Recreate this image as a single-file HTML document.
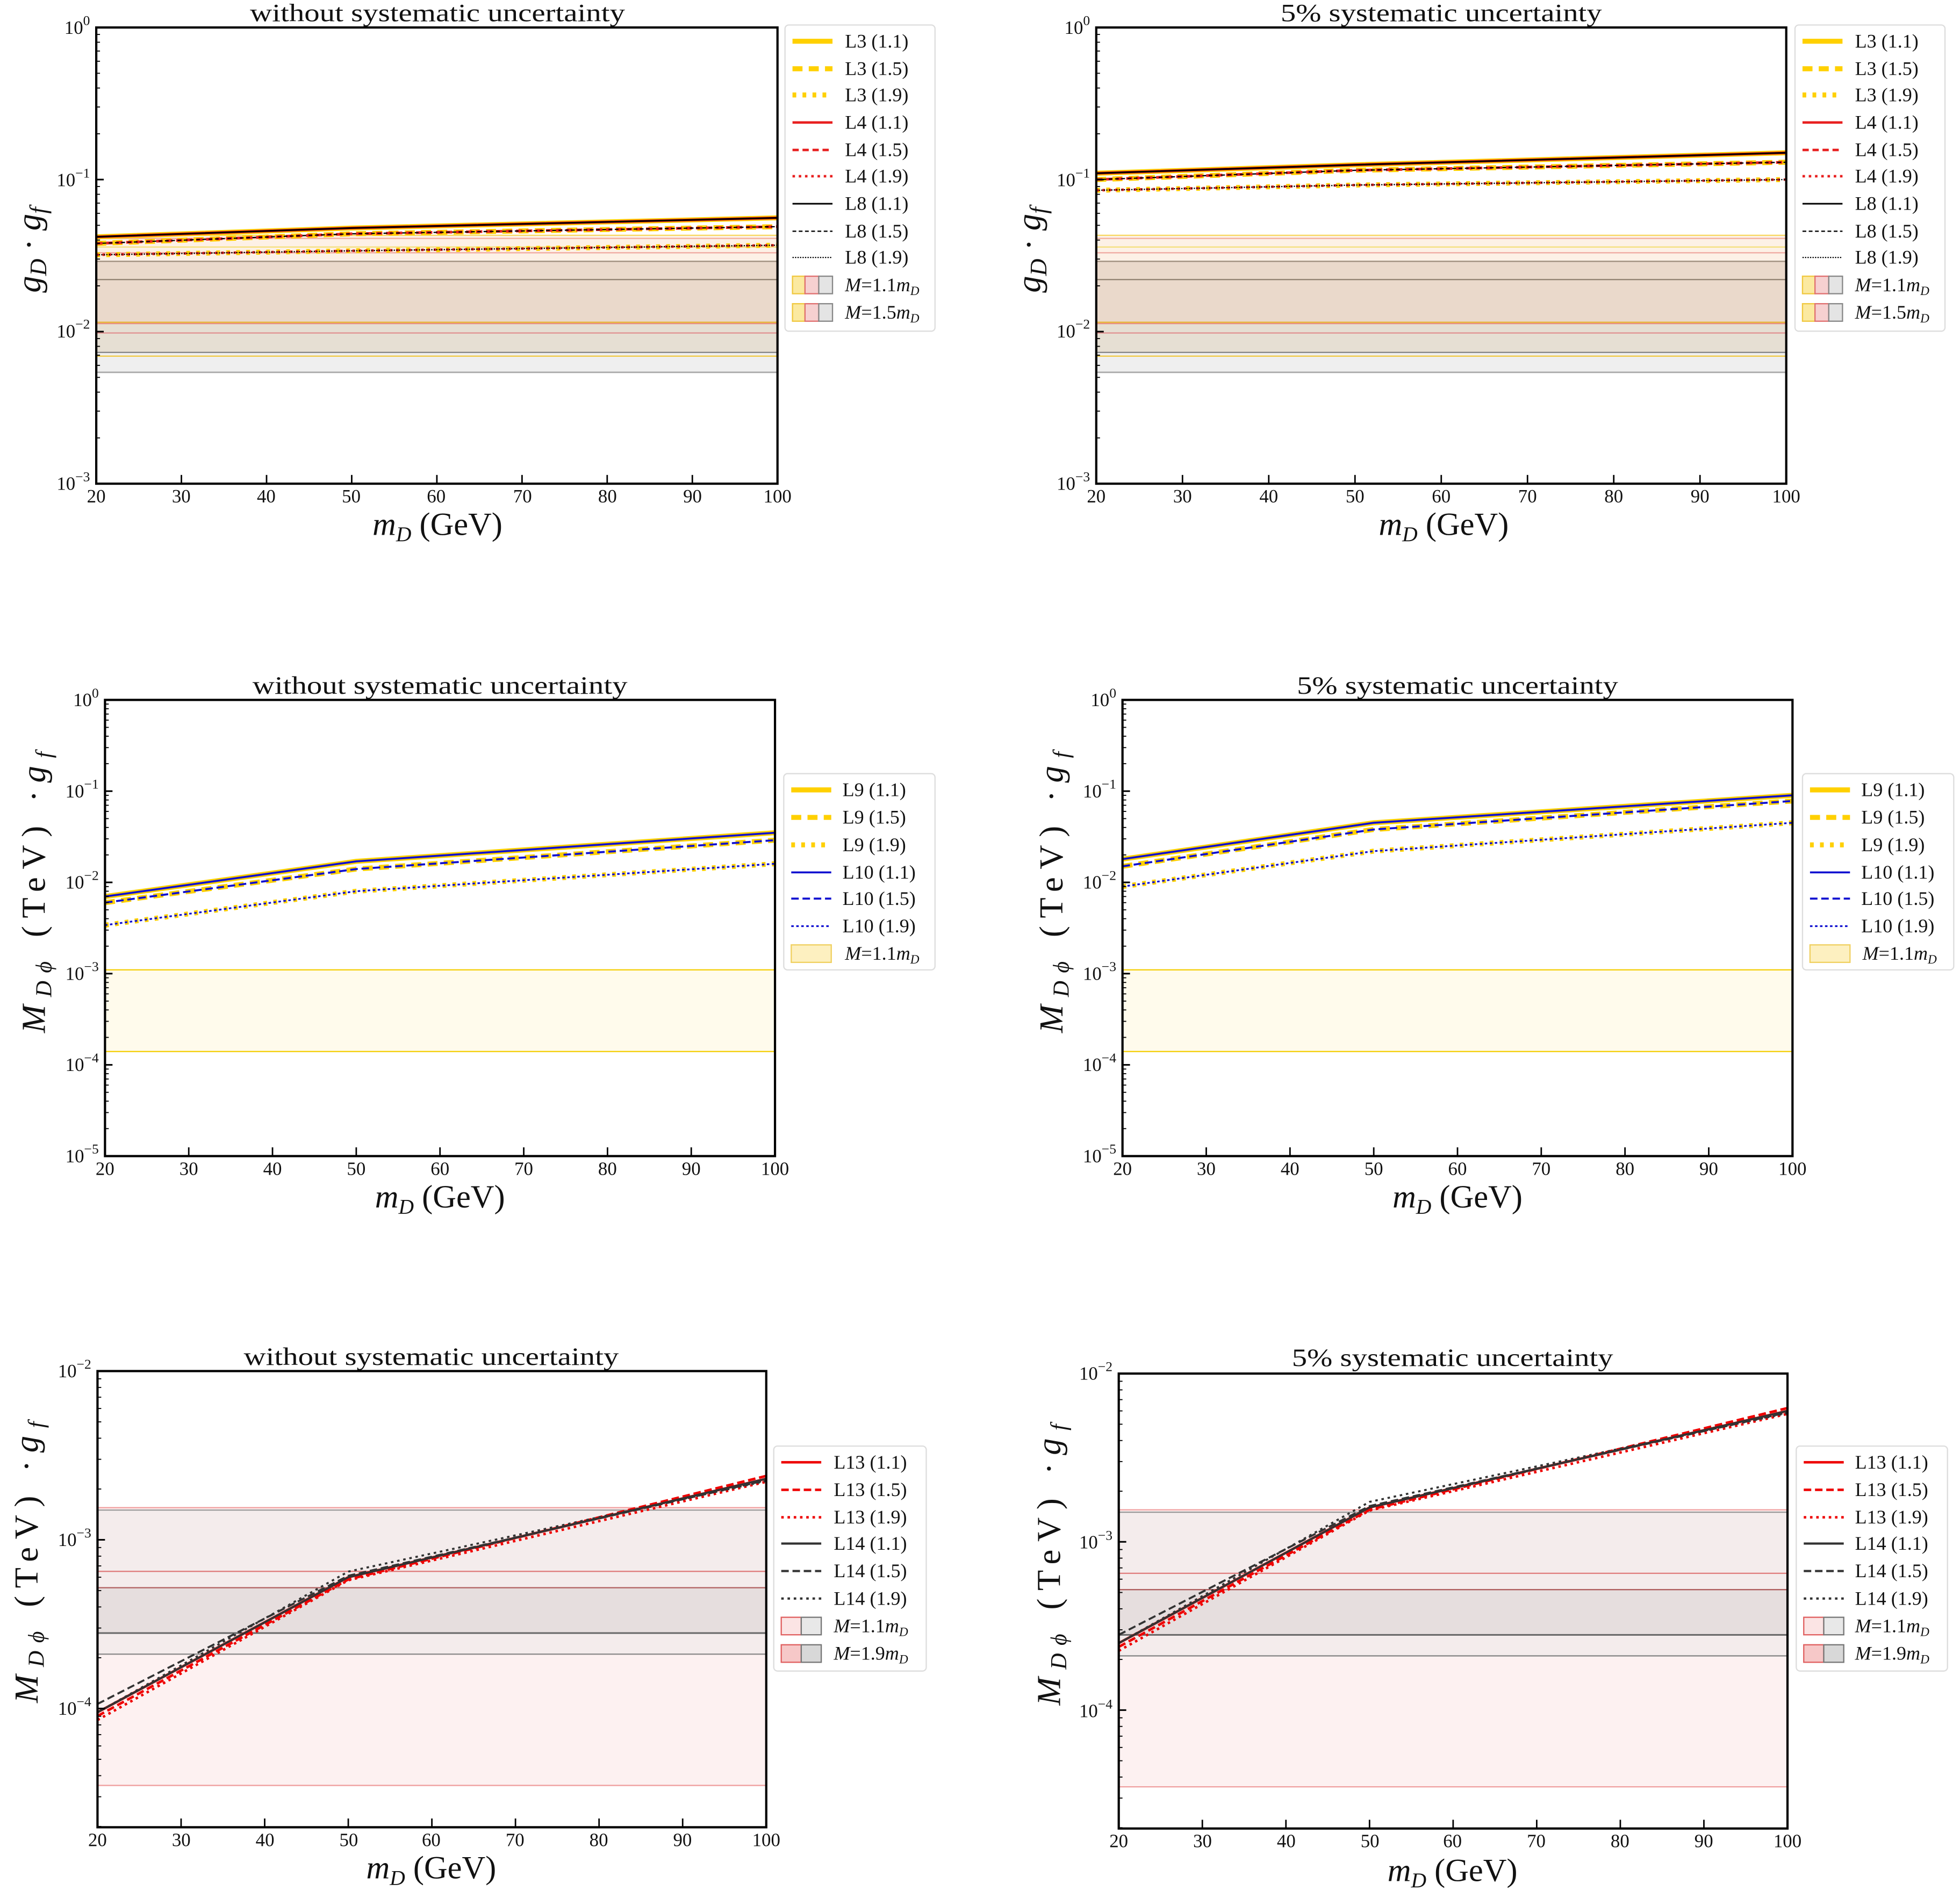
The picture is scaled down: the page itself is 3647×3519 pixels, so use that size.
<!DOCTYPE html>
<html><head><meta charset="utf-8"><style>
html,body{margin:0;padding:0;background:#fff;}
svg{display:block;}
text{font-family:"Liberation Serif",serif;fill:#111;}
.t{font-size:20px;text-anchor:middle;}
.xt{font-size:15px;text-anchor:middle;}
.yt{font-size:15px;text-anchor:end;}
.xl{font-size:26px;text-anchor:middle;}
.lg{font-size:15.5px;}
.yl{font-size:27px;text-anchor:middle;}
</style></head><body>
<svg id="s" width="3647" height="3519" viewBox="0 0 1568 1513" preserveAspectRatio="none" xmlns="http://www.w3.org/2000/svg">
<g id="g"></g>
<!-- titles -->
<text class="t" x="350" y="17" textLength="300" lengthAdjust="spacingAndGlyphs">without systematic uncertainty</text>
<text class="t" x="1153" y="17" textLength="257" lengthAdjust="spacingAndGlyphs">5% systematic uncertainty</text>
<text class="t" x="352" y="555" textLength="300" lengthAdjust="spacingAndGlyphs">without systematic uncertainty</text>
<text class="t" x="1166" y="555" textLength="257" lengthAdjust="spacingAndGlyphs">5% systematic uncertainty</text>
<text class="t" x="345" y="1092" textLength="300" lengthAdjust="spacingAndGlyphs">without systematic uncertainty</text>
<text class="t" x="1162" y="1093" textLength="257" lengthAdjust="spacingAndGlyphs">5% systematic uncertainty</text>
<!-- x tick labels -->
<g>
<text class="xt" x="77" y="402">20</text><text class="xt" x="145" y="402">30</text><text class="xt" x="213" y="402">40</text><text class="xt" x="281" y="402">50</text><text class="xt" x="349" y="402">60</text><text class="xt" x="418" y="402">70</text><text class="xt" x="486" y="402">80</text><text class="xt" x="554" y="402">90</text><text class="xt" x="622" y="402">100</text>
<text class="xt" x="877" y="402">20</text><text class="xt" x="946" y="402">30</text><text class="xt" x="1015" y="402">40</text><text class="xt" x="1084" y="402">50</text><text class="xt" x="1153" y="402">60</text><text class="xt" x="1222" y="402">70</text><text class="xt" x="1291" y="402">80</text><text class="xt" x="1360" y="402">90</text><text class="xt" x="1429" y="402">100</text>
<text class="xt" x="84" y="940">20</text><text class="xt" x="151" y="940">30</text><text class="xt" x="218" y="940">40</text><text class="xt" x="285" y="940">50</text><text class="xt" x="352" y="940">60</text><text class="xt" x="419" y="940">70</text><text class="xt" x="486" y="940">80</text><text class="xt" x="553" y="940">90</text><text class="xt" x="620" y="940">100</text>
<text class="xt" x="898" y="940">20</text><text class="xt" x="965" y="940">30</text><text class="xt" x="1032" y="940">40</text><text class="xt" x="1099" y="940">50</text><text class="xt" x="1166" y="940">60</text><text class="xt" x="1233" y="940">70</text><text class="xt" x="1300" y="940">80</text><text class="xt" x="1367" y="940">90</text><text class="xt" x="1434" y="940">100</text>
<text class="xt" x="78" y="1477">20</text><text class="xt" x="145" y="1477">30</text><text class="xt" x="212" y="1477">40</text><text class="xt" x="279" y="1477">50</text><text class="xt" x="345" y="1477">60</text><text class="xt" x="412" y="1477">70</text><text class="xt" x="479" y="1477">80</text><text class="xt" x="546" y="1477">90</text><text class="xt" x="613" y="1477">100</text>
<text class="xt" x="895" y="1478">20</text><text class="xt" x="962" y="1478">30</text><text class="xt" x="1029" y="1478">40</text><text class="xt" x="1096" y="1478">50</text><text class="xt" x="1162" y="1478">60</text><text class="xt" x="1229" y="1478">70</text><text class="xt" x="1296" y="1478">80</text><text class="xt" x="1363" y="1478">90</text><text class="xt" x="1430" y="1478">100</text>
</g>
<!-- x labels -->
<text class="xl" x="350" y="428"><tspan font-style="italic">m</tspan><tspan font-style="italic" font-size="17" dy="5">D</tspan><tspan dy="-5"> (GeV)</tspan></text>
<text class="xl" x="1155" y="428"><tspan font-style="italic">m</tspan><tspan font-style="italic" font-size="17" dy="5">D</tspan><tspan dy="-5"> (GeV)</tspan></text>
<text class="xl" x="352" y="966"><tspan font-style="italic">m</tspan><tspan font-style="italic" font-size="17" dy="5">D</tspan><tspan dy="-5"> (GeV)</tspan></text>
<text class="xl" x="1166" y="966"><tspan font-style="italic">m</tspan><tspan font-style="italic" font-size="17" dy="5">D</tspan><tspan dy="-5"> (GeV)</tspan></text>
<text class="xl" x="345" y="1503"><tspan font-style="italic">m</tspan><tspan font-style="italic" font-size="17" dy="5">D</tspan><tspan dy="-5"> (GeV)</tspan></text>
<text class="xl" x="1162" y="1505"><tspan font-style="italic">m</tspan><tspan font-style="italic" font-size="17" dy="5">D</tspan><tspan dy="-5"> (GeV)</tspan></text>
<!-- y tick labels -->
<g>
<text class="yt" x="72" y="27">10<tspan font-size="11" dy="-7">0</tspan></text>
<text class="yt" x="72" y="149">10<tspan font-size="11" dy="-7">−1</tspan></text>
<text class="yt" x="72" y="270">10<tspan font-size="11" dy="-7">−2</tspan></text>
<text class="yt" x="72" y="392">10<tspan font-size="11" dy="-7">−3</tspan></text>
<text class="yt" x="872" y="27">10<tspan font-size="11" dy="-7">0</tspan></text>
<text class="yt" x="872" y="149">10<tspan font-size="11" dy="-7">−1</tspan></text>
<text class="yt" x="872" y="270">10<tspan font-size="11" dy="-7">−2</tspan></text>
<text class="yt" x="872" y="392">10<tspan font-size="11" dy="-7">−3</tspan></text>
<text class="yt" x="79" y="565">10<tspan font-size="11" dy="-7">0</tspan></text>
<text class="yt" x="79" y="638">10<tspan font-size="11" dy="-7">−1</tspan></text>
<text class="yt" x="79" y="711">10<tspan font-size="11" dy="-7">−2</tspan></text>
<text class="yt" x="79" y="784">10<tspan font-size="11" dy="-7">−3</tspan></text>
<text class="yt" x="79" y="857">10<tspan font-size="11" dy="-7">−4</tspan></text>
<text class="yt" x="79" y="930">10<tspan font-size="11" dy="-7">−5</tspan></text>
<text class="yt" x="893" y="565">10<tspan font-size="11" dy="-7">0</tspan></text>
<text class="yt" x="893" y="638">10<tspan font-size="11" dy="-7">−1</tspan></text>
<text class="yt" x="893" y="711">10<tspan font-size="11" dy="-7">−2</tspan></text>
<text class="yt" x="893" y="784">10<tspan font-size="11" dy="-7">−3</tspan></text>
<text class="yt" x="893" y="857">10<tspan font-size="11" dy="-7">−4</tspan></text>
<text class="yt" x="893" y="930">10<tspan font-size="11" dy="-7">−5</tspan></text>
<text class="yt" x="73" y="1102">10<tspan font-size="11" dy="-7">−2</tspan></text>
<text class="yt" x="73" y="1237">10<tspan font-size="11" dy="-7">−3</tspan></text>
<text class="yt" x="73" y="1372">10<tspan font-size="11" dy="-7">−4</tspan></text>
<text class="yt" x="890" y="1104">10<tspan font-size="11" dy="-7">−2</tspan></text>
<text class="yt" x="890" y="1239">10<tspan font-size="11" dy="-7">−3</tspan></text>
<text class="yt" x="890" y="1374">10<tspan font-size="11" dy="-7">−4</tspan></text>
</g>
<!-- y labels -->
<text class="yl" transform="translate(32,200) rotate(-90)" font-size="29"><tspan font-style="italic">g</tspan><tspan font-style="italic" font-size="19" dy="5">D</tspan><tspan dy="-5"> · </tspan><tspan font-style="italic">g</tspan><tspan font-style="italic" font-size="19" dy="5">f</tspan></text>
<text class="yl" transform="translate(832,200) rotate(-90)" font-size="29"><tspan font-style="italic">g</tspan><tspan font-style="italic" font-size="19" dy="5">D</tspan><tspan dy="-5"> · </tspan><tspan font-style="italic">g</tspan><tspan font-style="italic" font-size="19" dy="5">f</tspan></text>
<text class="yl" transform="translate(36,714) rotate(-90)" textLength="225" lengthAdjust="spacing"><tspan font-style="italic">M</tspan><tspan font-style="italic" font-size="18" dy="5">Dϕ</tspan><tspan dy="-5">  (TeV) ·</tspan><tspan font-style="italic">g</tspan><tspan font-style="italic" font-size="18" dy="5">f</tspan></text>
<text class="yl" transform="translate(850,714) rotate(-90)" textLength="225" lengthAdjust="spacing"><tspan font-style="italic">M</tspan><tspan font-style="italic" font-size="18" dy="5">Dϕ</tspan><tspan dy="-5">  (TeV) ·</tspan><tspan font-style="italic">g</tspan><tspan font-style="italic" font-size="18" dy="5">f</tspan></text>
<text class="yl" transform="translate(30,1250) rotate(-90)" textLength="225" lengthAdjust="spacing"><tspan font-style="italic">M</tspan><tspan font-style="italic" font-size="18" dy="5">Dϕ</tspan><tspan dy="-5">  (TeV) ·</tspan><tspan font-style="italic">g</tspan><tspan font-style="italic" font-size="18" dy="5">f</tspan></text>
<text class="yl" transform="translate(848,1252) rotate(-90)" textLength="225" lengthAdjust="spacing"><tspan font-style="italic">M</tspan><tspan font-style="italic" font-size="18" dy="5">Dϕ</tspan><tspan dy="-5">  (TeV) ·</tspan><tspan font-style="italic">g</tspan><tspan font-style="italic" font-size="18" dy="5">f</tspan></text>
<!-- legend texts -->
<g>
<text class="lg" x="676" y="38">L3 (1.1)</text><text class="lg" x="676" y="60">L3 (1.5)</text><text class="lg" x="676" y="81">L3 (1.9)</text><text class="lg" x="676" y="103">L4 (1.1)</text><text class="lg" x="676" y="125">L4 (1.5)</text><text class="lg" x="676" y="146">L4 (1.9)</text><text class="lg" x="676" y="168">L8 (1.1)</text><text class="lg" x="676" y="190">L8 (1.5)</text><text class="lg" x="676" y="211">L8 (1.9)</text>
<text class="lg" x="676" y="233" font-size="13"><tspan font-style="italic">M</tspan>=1.1<tspan font-style="italic">m</tspan><tspan font-style="italic" font-size="10" dy="3">D</tspan></text>
<text class="lg" x="676" y="255" font-size="13"><tspan font-style="italic">M</tspan>=1.5<tspan font-style="italic">m</tspan><tspan font-style="italic" font-size="10" dy="3">D</tspan></text>
<text class="lg" x="1484" y="38">L3 (1.1)</text><text class="lg" x="1484" y="60">L3 (1.5)</text><text class="lg" x="1484" y="81">L3 (1.9)</text><text class="lg" x="1484" y="103">L4 (1.1)</text><text class="lg" x="1484" y="125">L4 (1.5)</text><text class="lg" x="1484" y="146">L4 (1.9)</text><text class="lg" x="1484" y="168">L8 (1.1)</text><text class="lg" x="1484" y="190">L8 (1.5)</text><text class="lg" x="1484" y="211">L8 (1.9)</text>
<text class="lg" x="1484" y="233" font-size="13"><tspan font-style="italic">M</tspan>=1.1<tspan font-style="italic">m</tspan><tspan font-style="italic" font-size="10" dy="3">D</tspan></text>
<text class="lg" x="1484" y="255" font-size="13"><tspan font-style="italic">M</tspan>=1.5<tspan font-style="italic">m</tspan><tspan font-style="italic" font-size="10" dy="3">D</tspan></text>
<text class="lg" x="674" y="637">L9 (1.1)</text><text class="lg" x="674" y="659">L9 (1.5)</text><text class="lg" x="674" y="681">L9 (1.9)</text><text class="lg" x="674" y="703">L10 (1.1)</text><text class="lg" x="674" y="724">L10 (1.5)</text><text class="lg" x="674" y="746">L10 (1.9)</text>
<text class="lg" x="676" y="768" font-size="13"><tspan font-style="italic">M</tspan>=1.1<tspan font-style="italic">m</tspan><tspan font-style="italic" font-size="10" dy="3">D</tspan></text>
<text class="lg" x="1489" y="637">L9 (1.1)</text><text class="lg" x="1489" y="659">L9 (1.5)</text><text class="lg" x="1489" y="681">L9 (1.9)</text><text class="lg" x="1489" y="703">L10 (1.1)</text><text class="lg" x="1489" y="724">L10 (1.5)</text><text class="lg" x="1489" y="746">L10 (1.9)</text>
<text class="lg" x="1490" y="768" font-size="13"><tspan font-style="italic">M</tspan>=1.1<tspan font-style="italic">m</tspan><tspan font-style="italic" font-size="10" dy="3">D</tspan></text>
<text class="lg" x="667" y="1175">L13 (1.1)</text><text class="lg" x="667" y="1197">L13 (1.5)</text><text class="lg" x="667" y="1219">L13 (1.9)</text><text class="lg" x="667" y="1240">L14 (1.1)</text><text class="lg" x="667" y="1262">L14 (1.5)</text><text class="lg" x="667" y="1284">L14 (1.9)</text>
<text class="lg" x="667" y="1306" font-size="13"><tspan font-style="italic">M</tspan>=1.1<tspan font-style="italic">m</tspan><tspan font-style="italic" font-size="10" dy="3">D</tspan></text>
<text class="lg" x="667" y="1328" font-size="13"><tspan font-style="italic">M</tspan>=1.9<tspan font-style="italic">m</tspan><tspan font-style="italic" font-size="10" dy="3">D</tspan></text>
<text class="lg" x="1484" y="1175">L13 (1.1)</text><text class="lg" x="1484" y="1197">L13 (1.5)</text><text class="lg" x="1484" y="1219">L13 (1.9)</text><text class="lg" x="1484" y="1240">L14 (1.1)</text><text class="lg" x="1484" y="1262">L14 (1.5)</text><text class="lg" x="1484" y="1284">L14 (1.9)</text>
<text class="lg" x="1484" y="1306" font-size="13"><tspan font-style="italic">M</tspan>=1.1<tspan font-style="italic">m</tspan><tspan font-style="italic" font-size="10" dy="3">D</tspan></text>
<text class="lg" x="1484" y="1328" font-size="13"><tspan font-style="italic">M</tspan>=1.9<tspan font-style="italic">m</tspan><tspan font-style="italic" font-size="10" dy="3">D</tspan></text>
</g>
</svg>
<script>
var NS="http://www.w3.org/2000/svg",G=document.getElementById("g");
function el(t,a){var e=document.createElementNS(NS,t);for(var k in a)e.setAttribute(k,a[k]);G.appendChild(e);return e;}
function L(x1,y1,x2,y2,c,w,d){var a={x1:x1,y1:y1,x2:x2,y2:y2,stroke:c,"stroke-width":w};if(d)a["stroke-dasharray"]=d;el("line",a);}
function panel(p){
 p.X=function(v){return p.x0+(v-20)/80*(p.x1-p.x0);};
 p.Y=function(v){return p.y0+(p.top-Math.log10(v))/(p.top-p.bot)*(p.y1-p.y0);};
 return p;}
var P=[
 panel({x0:77,x1:622,y0:22,y1:387,top:0,bot:-3}),
 panel({x0:877,x1:1429,y0:22,y1:387,top:0,bot:-3}),
 panel({x0:84,x1:620,y0:560,y1:925,top:0,bot:-5}),
 panel({x0:898,x1:1434,y0:560,y1:925,top:0,bot:-5}),
 panel({x0:78,x1:613,y0:1097,y1:1462,top:-2,bot:-4.7037}),
 panel({x0:895,x1:1430,y0:1099,y1:1463,top:-2,bot:-4.7037})];
function rect(p,a,b,c){var y1=p.Y(a),y2=p.Y(b);el("rect",{x:p.x0,y:y1,width:p.x1-p.x0,height:y2-y1,fill:c});}
function hl(p,v,c,w){L(p.x0,p.Y(v),p.x1,p.Y(v),c,w||1);}
function curve(p,vals,c,w,d){var xs=[20,50,100],pts=vals.map(function(v,i){return p.X(xs[i])+","+p.Y(v);}).join(" ");
 var a={points:pts,fill:"none",stroke:c,"stroke-width":w};if(d)a["stroke-dasharray"]=d;el("polyline",a);}
[0,1].forEach(function(i){var p=P[i];
 rect(p,0.043,0.029,"#fdf1e6");rect(p,0.029,0.0115,"#ead9cb");rect(p,0.0115,0.0073,"#e6dfd3");rect(p,0.0073,0.0054,"#efefef");
 hl(p,0.043,"#f8d860");hl(p,0.041,"#f3b0a0");hl(p,0.036,"#f5e080");hl(p,0.033,"#f0a8a0");hl(p,0.029,"#a09080");hl(p,0.022,"#908070");
 hl(p,0.0115,"#e8b840",1.2);hl(p,0.0113,"#e89080");hl(p,0.0098,"#e09090");hl(p,0.0073,"#888");hl(p,0.0069,"#f0c840");hl(p,0.0054,"#aaa",1.2);});
var R1=[[[0.042,0.048,0.056],[0.038,0.044,0.049],[0.032,0.034,0.037]],[[0.11,0.125,0.15],[0.10,0.115,0.13],[0.085,0.092,0.10]]];
[0,1].forEach(function(i){var p=P[i],r=R1[i];
 curve(p,r[0],"#ffd000",4);curve(p,r[1],"#ffd000",4,"8,5");curve(p,r[2],"#ffd000",4,"3,5");
 curve(p,r[0],"#e82020",2.2);curve(p,r[1],"#e82020",2.2,"5,3");curve(p,r[2],"#e82020",2,"2,3");
 curve(p,r[0],"#000",1.3);curve(p,r[1],"#000",1,"3,2");curve(p,r[2],"#000",1,"1,1");});
var R2=[[[0.007,0.017,0.035],[0.006,0.014,0.029],[0.0034,0.008,0.016]],[[0.018,0.045,0.09],[0.015,0.038,0.078],[0.009,0.022,0.045]]];
[2,3].forEach(function(i){var p=P[i],r=R2[i-2];
 rect(p,0.0011,0.00014,"#fffbec");hl(p,0.0011,"#f5d010");hl(p,0.00014,"#f5d010");
 curve(p,r[0],"#ffd000",4);curve(p,r[1],"#ffd000",4,"8,5");curve(p,r[2],"#ffd000",4,"3,5");
 curve(p,r[0],"#1010d0",1.6);curve(p,r[1],"#1010d0",1.6,"6,3");curve(p,r[2],"#1010d0",1.4,"2,2");});
var R3=[[9.5e-5,6e-4,2.3e-3],[2.5e-4,1.6e-3,6e-3]];
[4,5].forEach(function(i){var p=P[i],r=R3[i-4];
 rect(p,1.55e-3,3.5e-5,"#fdf1f1");rect(p,1.5e-3,2.1e-4,"#f4ecec");rect(p,5.2e-4,2.8e-4,"#e6dede");
 hl(p,1.55e-3,"#f0a0a0");hl(p,1.5e-3,"#999");hl(p,6.5e-4,"#e08080");hl(p,5.2e-4,"#b06060");hl(p,2.8e-4,"#666",1.3);hl(p,2.1e-4,"#888");hl(p,3.5e-5,"#f0a0a0");
 var f1=[r[0]*0.95,r[1]*0.97,r[2]*1.04],f2=[r[0]*0.9,r[1]*0.96,r[2]*0.96],k1=[r[0]*1.12,r[1]*1.02,r[2]*0.98],k2=[r[0],r[1]*1.08,r[2]*0.97];
 curve(p,r,"#e00",2);curve(p,f1,"#e00",2,"6,3");curve(p,f2,"#e00",2,"2,3");
 curve(p,r,"#333",1.6);curve(p,k1,"#333",1.6,"6,3");curve(p,k2,"#333",1.6,"2,3");});
P.forEach(function(p){
 el("rect",{x:p.x0,y:p.y0,width:p.x1-p.x0,height:p.y1-p.y0,fill:"none",stroke:"#000","stroke-width":1.8});
 for(var v=30;v<100;v+=10){var x=p.X(v);L(x,p.y1,x,p.y1-7,"#000",1.2);}
 for(var e=Math.ceil(p.bot)-1;e<=p.top;e++){for(var m=1;m<10;m++){var val=m*Math.pow(10,e),lv=Math.log10(val);if(lv>p.top+1e-9||lv<p.bot-1e-9)continue;var y=p.Y(val);L(p.x0,y,p.x0+(m==1?6:3),y,"#000",m==1?1.3:0.8);}}
});
function box(x,y,w,h){el("rect",{x:x,y:y,width:w,height:h,rx:3,fill:"#fff",stroke:"#ddd","stroke-width":1});}
function leg1(x,tx){box(x-6,20,tx-x+78,245);
 var ys=[33,55,76,98,120,141,163,185,206];
 var st=[["#ffd000",4,""],["#ffd000",4,"8,5"],["#ffd000",4,"3,5"],["#e82020",2,""],["#e82020",2,"5,3"],["#e82020",2,"2,3"],["#000",1.3,""],["#000",1,"3,2"],["#000",1,"1,1"]];
 ys.forEach(function(y,i){L(x,y,x+32,y,st[i][0],st[i][1],st[i][2]);});
 [228,250].forEach(function(y){el("rect",{x:x,y:y-7,width:10,height:14,fill:"#fbe9a0",stroke:"#f0c840"});el("rect",{x:x+10,y:y-7,width:11,height:14,fill:"#f6d0d0",stroke:"#e07070"});el("rect",{x:x+21,y:y-7,width:11,height:14,fill:"#e4e4e4",stroke:"#888"});});}
leg1(634,676);leg1(1442,1484);
function leg2(x,tx){box(x-6,619,tx-x+80,157);
 var ys=[632,654,676,698,719,741];
 var st=[["#ffd000",4,""],["#ffd000",4,"8,5"],["#ffd000",4,"3,5"],["#1010d0",1.6,""],["#1010d0",1.6,"6,3"],["#1010d0",1.4,"2,2"]];
 ys.forEach(function(y,i){L(x,y,x+32,y,st[i][0],st[i][1],st[i][2]);});
 el("rect",{x:x,y:756,width:32,height:14,fill:"#fdf0c0",stroke:"#f0d060"});}
leg2(633,674);leg2(1448,1489);
function leg3(x,tx){box(x-6,1157,tx-x+80,180);
 var ys=[1170,1192,1214,1235,1257,1279];
 var st=[["#e00",2,""],["#e00",2,"6,3"],["#e00",2,"2,3"],["#333",1.8,""],["#333",1.8,"6,3"],["#333",1.8,"2,3"]];
 ys.forEach(function(y,i){L(x,y,x+32,y,st[i][0],st[i][1],st[i][2]);});
 [1301,1323].forEach(function(y,i){el("rect",{x:x,y:y-7,width:16,height:14,fill:i?"#f6c8c8":"#fbe4e4",stroke:"#e06060"});el("rect",{x:x+16,y:y-7,width:16,height:14,fill:i?"#d8d8d8":"#e8e8e8",stroke:"#777"});});}
leg3(625,667);leg3(1443,1484);
</script>
</body></html>
